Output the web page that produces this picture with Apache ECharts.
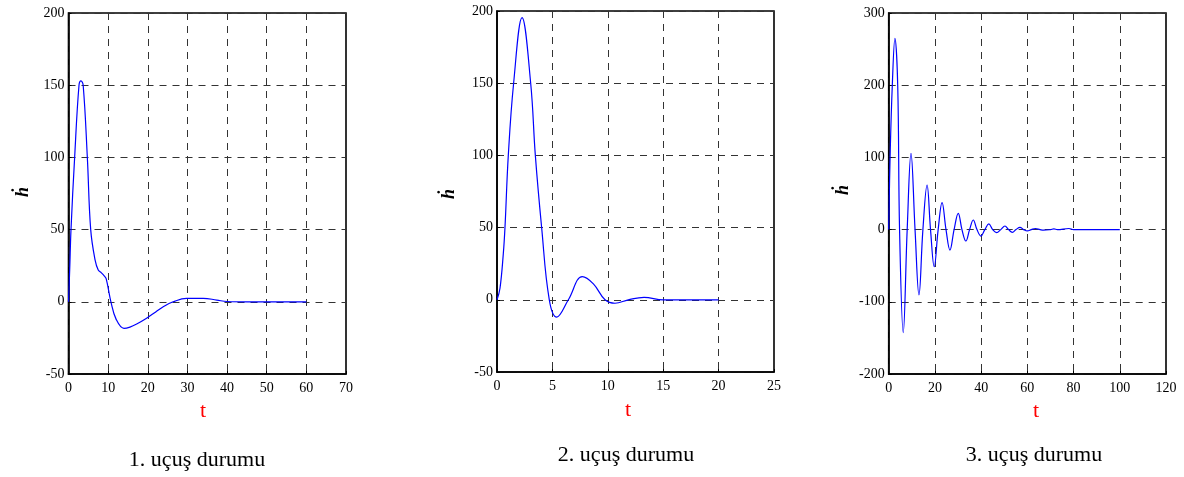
<!DOCTYPE html>
<html>
<head>
<meta charset="utf-8">
<style>
  html, body { margin: 0; padding: 0; background: #fff; }
  #chart { width: 1184px; height: 477px; }
</style>
<script src="https://cdn.jsdelivr.net/npm/echarts@6/dist/echarts.min.js"></script>
</head>
<body>
<div id="chart"></div>
<script>
// Flight case 1: vertical speed response
const t1 = [0, 0.3, 0.63, 1.55, 2.65, 3.15, 3.7, 4.75, 5.6, 6.7, 7.5, 8.3, 9.0, 9.5, 10.7, 12.0, 14.0, 15.5, 17.2, 19.7, 22, 23.9, 26.4, 29.8, 34, 37.4, 40, 45, 50, 55, 60];
const v1 = [0, 22, 50, 100, 150, 153, 150, 100, 50, 29, 22, 20, 18, 16, 0, -12, -18.4, -17.5, -15.4, -11.4, -7, -3.4, 0, 2.4, 2.4, 1.2, 0.2, 0, 0, 0, 0];

// Flight case 2
const t2 = [0, 0.27, 0.57, 0.72, 1.02, 1.5, 2.26, 3.04, 3.46, 4.03, 4.72, 5.39, 6.44, 7.7, 8.7, 9.75, 10.65, 11.85, 13.27, 15, 17, 20];
const v2 = [0, 8, 32, 50, 100, 150, 195.4, 150, 100, 50, 0, -12, 0, 16, 11, 0, -2.4, 0, 1.7, 0, 0, 0];

// Flight case 3
const t3 = [0, 0.6, 1.56, 2.7, 3.9, 4.7, 6.3, 8.0, 9.65, 11.4, 13.1, 14.8, 16.6, 18.1, 19.7, 21.4, 23.1, 24.8, 26.5, 28.3, 30.1, 31.7, 33.4, 35, 36.6, 38.2, 39.9, 41.6, 43.3, 45, 46.7, 48.5, 50.3, 51.9, 53.5, 55.1, 56.8, 58.4, 60, 61.7, 63.5, 65.5, 67, 70, 71.5, 73, 78, 80, 100];
const v3 = [0, 100, 200, 265, 200, 0, -142.8, 0, 105.7, 0, -90.6, 0, 61.8, 0, -51.4, 0, 37.3, 0, -28.3, 0, 22.6, 0, -15.8, 0, 13.3, 0, -8.9, 0, 7.8, 0, -4.3, 0, 5, 0, -3.8, 0, 3.2, 0, -1.8, 0, 1.5, 0, -0.8, 0, 1, 0, 1.5, 0, 0];

// Axis ranges and tick steps
const xRanges = [[0, 70, 10], [0, 25, 5], [0, 120, 20]];
const yRanges = [[-50, 200, 50], [-50, 200, 50], [-200, 300, 100]];
const captions = ['1. uçuş durumu', '2. uçuş durumu', '3. uçuş durumu'];

const grids = [
  { left: 68.5, top: 13, width: 277.5, height: 361 },
  { left: 497, top: 11, width: 277, height: 361 },
  { left: 888.7, top: 13, width: 277.3, height: 361 }
];

const font = 'Liberation Serif, Times New Roman, serif';
const dash = { color: '#333', width: 1, type: [7, 6] };

function axisCommon(range) {
  return {
    type: 'value', min: range[0], max: range[1], interval: range[2],
    axisLine: { show: true, onZero: false, lineStyle: { color: '#000', width: 1.6 } },
    axisTick: { show: true, inside: true, length: 3, lineStyle: { color: '#000' } },
    axisLabel: { color: '#000', fontFamily: font, fontSize: 14, margin: 4 },
    splitLine: { show: true, lineStyle: dash }
  };
}

const pairs = [[t1, v1], [t2, v2], [t3, v3]];

const option = {
  animation: false,
  backgroundColor: '#fff',
  grid: grids.map(g => Object.assign({ show: true, borderColor: '#000', borderWidth: 1.6, backgroundColor: 'transparent' }, g)),
  xAxis: xRanges.map((r, i) => Object.assign(axisCommon(r), { gridIndex: i, axisLabel: { color: '#000', fontFamily: font, fontSize: 14, margin: 7 } })),
  yAxis: yRanges.map((r, i) => Object.assign(axisCommon(r), { gridIndex: i })),
  series: pairs.map((p, i) => ({
    type: 'line', xAxisIndex: i, yAxisIndex: i,
    data: p[0].map((t, k) => [t, p[1][k]]),
    showSymbol: false, smooth: 0.4,
    lineStyle: { color: '#0000ff', width: 1.2 }
  })),
  graphic: []
};

// Axis names and captions
const tPos = [[203, 411], [628, 410], [1036, 411]];
const hPos = [[23, 192], [449, 194], [843, 190]];
const capPos = [[197, 460], [626, 455], [1034, 455]];
for (let i = 0; i < 3; i++) {
  option.graphic.push({
    type: 'text', x: tPos[i][0], y: tPos[i][1],
    style: { text: 't', fill: '#ff0000', font: '22px ' + font, align: 'center', verticalAlign: 'middle' }
  });
  option.graphic.push({
    type: 'text', x: hPos[i][0], y: hPos[i][1], rotation: Math.PI / 2,
    style: { text: 'ḣ', fill: '#000', font: 'bold italic 18px ' + font, align: 'center', verticalAlign: 'middle' }
  });
  option.graphic.push({
    type: 'text', x: capPos[i][0], y: capPos[i][1],
    style: { text: captions[i], fill: '#000', font: '22px ' + font, align: 'center', verticalAlign: 'middle' }
  });
}

const chart = echarts.init(document.getElementById('chart'), null, { renderer: 'canvas' });
chart.setOption(option);
</script>
</body>
</html>
